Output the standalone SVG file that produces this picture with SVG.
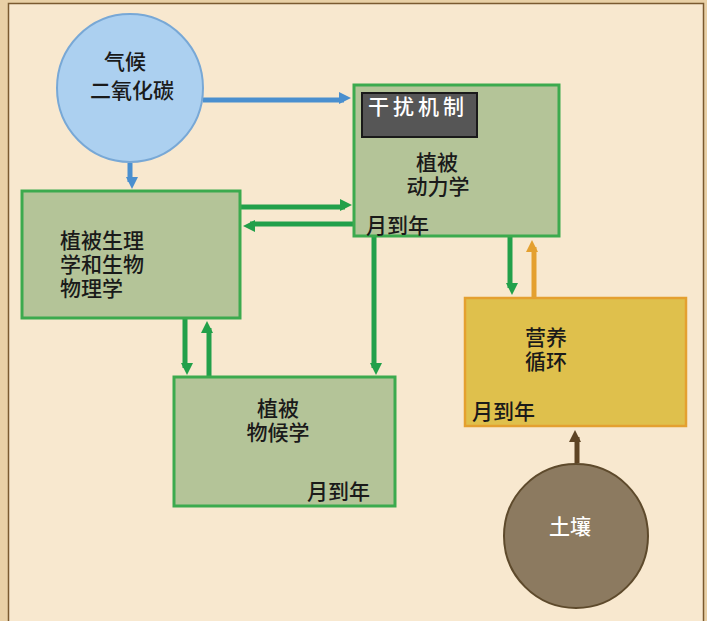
<svg xmlns="http://www.w3.org/2000/svg" width="707" height="621" viewBox="0 0 707 621">
<style>
.t{font-family:"Noto Sans CJK SC","Noto Sans",sans-serif;font-size:21px;fill:#1a1a1a;font-weight:500}
.w{fill:#ffffff}
.gbox{fill:#b4c498;stroke:#3caa4e;stroke-width:3}
.g{stroke:#22a04a;stroke-width:5;fill:none}
.b{stroke:#4a8fcf;stroke-width:5;fill:none}
.o{stroke:#e4a030;stroke-width:5;fill:none}
.br{stroke:#5e4424;stroke-width:5;fill:none}
</style>
<defs>
<marker id="ag" markerWidth="4" markerHeight="4" refX="2" refY="2" orient="auto" markerUnits="userSpaceOnUse" viewBox="0 0 4 4" style="overflow:visible"><path d="M-3,-6 L9,0 L-3,6 Z" fill="#22a04a"/></marker>
<marker id="ab" markerUnits="userSpaceOnUse" viewBox="0 0 4 4" refX="2" refY="2" markerWidth="4" markerHeight="4" orient="auto" style="overflow:visible"><path d="M-3,-6 L9,0 L-3,6 Z" fill="#4a8fcf"/></marker>
<marker id="ao" markerUnits="userSpaceOnUse" viewBox="0 0 4 4" refX="2" refY="2" markerWidth="4" markerHeight="4" orient="auto" style="overflow:visible"><path d="M-3,-6 L9,0 L-3,6 Z" fill="#e4a030"/></marker>
<marker id="abr" markerUnits="userSpaceOnUse" viewBox="0 0 4 4" refX="2" refY="2" markerWidth="4" markerHeight="4" orient="auto" style="overflow:visible"><path d="M-3,-6 L9,0 L-3,6 Z" fill="#5e4424"/></marker>
</defs>
<rect x="0" y="0" width="707" height="621" fill="#e9d0a6"/>
<rect x="8.5" y="3.5" width="695" height="625" fill="#f8e8cf" stroke="#7a5a30" stroke-width="1.5"/>

<g id="connectors">
<line class="b" x1="203" y1="100" x2="344" y2="100" marker-end="url(#ab)"/>
<line class="b" x1="130" y1="163" x2="130" y2="182" marker-end="url(#ab)"/>
<line class="g" x1="241" y1="207" x2="345" y2="207" marker-end="url(#ag)"/>
<line class="g" x1="354" y1="224" x2="250" y2="224" marker-end="url(#ag)"/>
<line class="g" x1="374" y1="237" x2="374" y2="368" marker-end="url(#ag)"/>
<line class="g" x1="185" y1="318" x2="185" y2="368" marker-end="url(#ag)"/>
<line class="g" x1="209" y1="377" x2="209" y2="328" marker-end="url(#ag)"/>
<line class="g" x1="510" y1="237" x2="510" y2="288" marker-end="url(#ag)"/>
<line class="o" x1="534" y1="298" x2="534" y2="247" marker-end="url(#ao)"/>
<line class="br" x1="577" y1="463" x2="577" y2="437" marker-end="url(#abr)"/>
</g>

<g id="climate">
<ellipse cx="130" cy="88" rx="73" ry="74" fill="#acd0f0" stroke="#78a8d6" stroke-width="2"/>
<text class="t" x="125" y="69" text-anchor="middle">气候</text>
<text class="t" x="132" y="98" text-anchor="middle">二氧化碳</text>
</g>

<g id="dynamics">
<rect class="gbox" x="354" y="85" width="205" height="151"/>
<rect x="362" y="93" width="115" height="44" fill="#565656" stroke="#1a1a1a" stroke-width="2"/>
<text class="t w" x="368" y="114" font-size="19" letter-spacing="4">干扰机制</text>
<text class="t" x="437" y="170" text-anchor="middle">植被</text>
<text class="t" x="438" y="194" text-anchor="middle">动力学</text>
<text class="t" x="366" y="233">月到年</text>
</g>

<g id="physiology">
<rect class="gbox" x="22" y="191" width="218" height="127"/>
<text class="t" x="60" y="248">植被生理</text>
<text class="t" x="60" y="272">学和生物</text>
<text class="t" x="60" y="296">物理学</text>
</g>

<g id="phenology">
<rect class="gbox" x="174" y="377" width="221" height="129"/>
<text class="t" x="278" y="416" text-anchor="middle">植被</text>
<text class="t" x="278" y="440" text-anchor="middle">物候学</text>
<text class="t" x="307" y="499">月到年</text>
</g>

<g id="nutrient">
<rect x="465" y="298" width="221" height="128" fill="#dfc04c" stroke="#e4a030" stroke-width="2.5"/>
<text class="t" x="546" y="345" text-anchor="middle">营养</text>
<text class="t" x="546" y="369" text-anchor="middle">循环</text>
<text class="t" x="472" y="419">月到年</text>
</g>

<g id="soil">
<ellipse cx="576" cy="536" rx="72" ry="72" fill="#8c7a60" stroke="#5e4a2c" stroke-width="2"/>
<text class="t w" x="570" y="534" text-anchor="middle">土壤</text>
</g>
</svg>
